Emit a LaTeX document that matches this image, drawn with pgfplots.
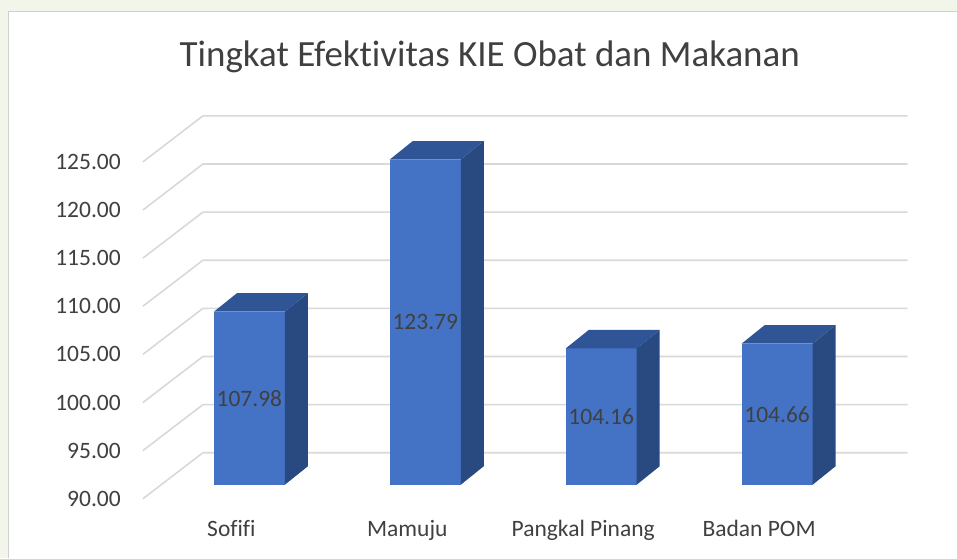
\documentclass[border=0pt]{standalone}
\usepackage{pgfplots}
\pgfplotsset{compat=1.18}
\usepackage{fontspec}
\setmainfont{Carlito}[Ligatures=NoCommon]
\definecolor{barfront}{HTML}{4472C4}
\definecolor{bartop}{HTML}{2F5597}
\definecolor{barside}{HTML}{294A80}
\definecolor{gridc}{HTML}{D9D9D9}
\definecolor{txt}{HTML}{404040}
\definecolor{outerbg}{HTML}{F1F5EA}
\definecolor{borderc}{HTML}{D0D0D0}
\begin{document}
\begin{tikzpicture}
\begin{axis}[
  scale only axis, width=957pt, height=558pt,
  xmin=0, xmax=957, ymin=82.42, ymax=140.364,
  hide axis, clip=false,
]
% background
\fill[outerbg] (rel axis cs:0,0) rectangle (rel axis cs:1,1);
\fill[white] (9,82.42) rectangle (957,139.22);
\draw[borderc, line width=1pt] (9,82.42) -- (9,139.22) -- (957,139.22);
% title
\node[anchor=base, font=\fontsize{37}{44}\selectfont, text=txt] at (490,133.41) {Tingkat Efektivitas KIE Obat dan Makanan};
% gridlines (floor-front diagonal + back wall)
\pgfplotsinvokeforeach{90,95,100,105,110,115,120,125}{
  \draw[gridc, line width=1.6pt] (143,#1-1.454) -- (203,#1+3.323) -- (908,#1+3.323);
}
% tick labels
\pgfplotsinvokeforeach{90,95,100,105,110,115,120,125}{
  \node[anchor=east, inner sep=0pt, text=txt, font=\fontsize{23.5}{28}\selectfont] at (121,#1-1.454) {#1.00};
}
% bars: front, top, side
% Sofifi 107.98
\addplot[fill=barfront, draw=none] coordinates {(214,90) (285,90) (285,107.98) (214,107.98)};
\addplot[fill=bartop, draw=none] coordinates {(214,107.98) (285,107.98) (308,109.90) (237,109.90)};
\addplot[fill=barside, draw=none] coordinates {(285,90) (308,91.92) (308,109.90) (285,107.98)};
% Mamuju 123.79
\addplot[fill=barfront, draw=none] coordinates {(390,90) (461,90) (461,123.79) (390,123.79)};
\addplot[fill=bartop, draw=none] coordinates {(390,123.79) (461,123.79) (484,125.71) (413,125.71)};
\addplot[fill=barside, draw=none] coordinates {(461,90) (484,91.92) (484,125.71) (461,123.79)};
% Pangkal Pinang 104.16
\addplot[fill=barfront, draw=none] coordinates {(566,90) (637,90) (637,104.16) (566,104.16)};
\addplot[fill=bartop, draw=none] coordinates {(566,104.16) (637,104.16) (660,106.08) (589,106.08)};
\addplot[fill=barside, draw=none] coordinates {(637,90) (660,91.92) (660,106.08) (637,104.16)};
% Badan POM 104.66
\addplot[fill=barfront, draw=none] coordinates {(742,90) (813,90) (813,104.66) (742,104.66)};
\addplot[fill=bartop, draw=none] coordinates {(742,104.66) (813,104.66) (836,106.58) (765,106.58)};
\addplot[fill=barside, draw=none] coordinates {(813,90) (836,91.92) (836,106.58) (813,104.66)};
% data labels
\begin{scope}[every node/.style={text=txt, font=\fontsize{23.5}{28}\selectfont}]
\node at (249.5,98.99) {107.98};
\node at (425.5,106.895) {123.79};
\node at (601.5,97.08) {104.16};
\node at (777.5,97.33) {104.66};
\end{scope}
% category labels
\begin{scope}[every node/.style={anchor=base, text=txt, font=\fontsize{23.5}{28}\selectfont}]
\node at (231.5,84.60) {Sofifi};
\node at (407.5,84.60) {Mamuju};
\node at (583.5,84.60) {Pangkal Pinang};
\node at (759.5,84.60) {Badan POM};
\end{scope}
\end{axis}
\end{tikzpicture}
\end{document}
